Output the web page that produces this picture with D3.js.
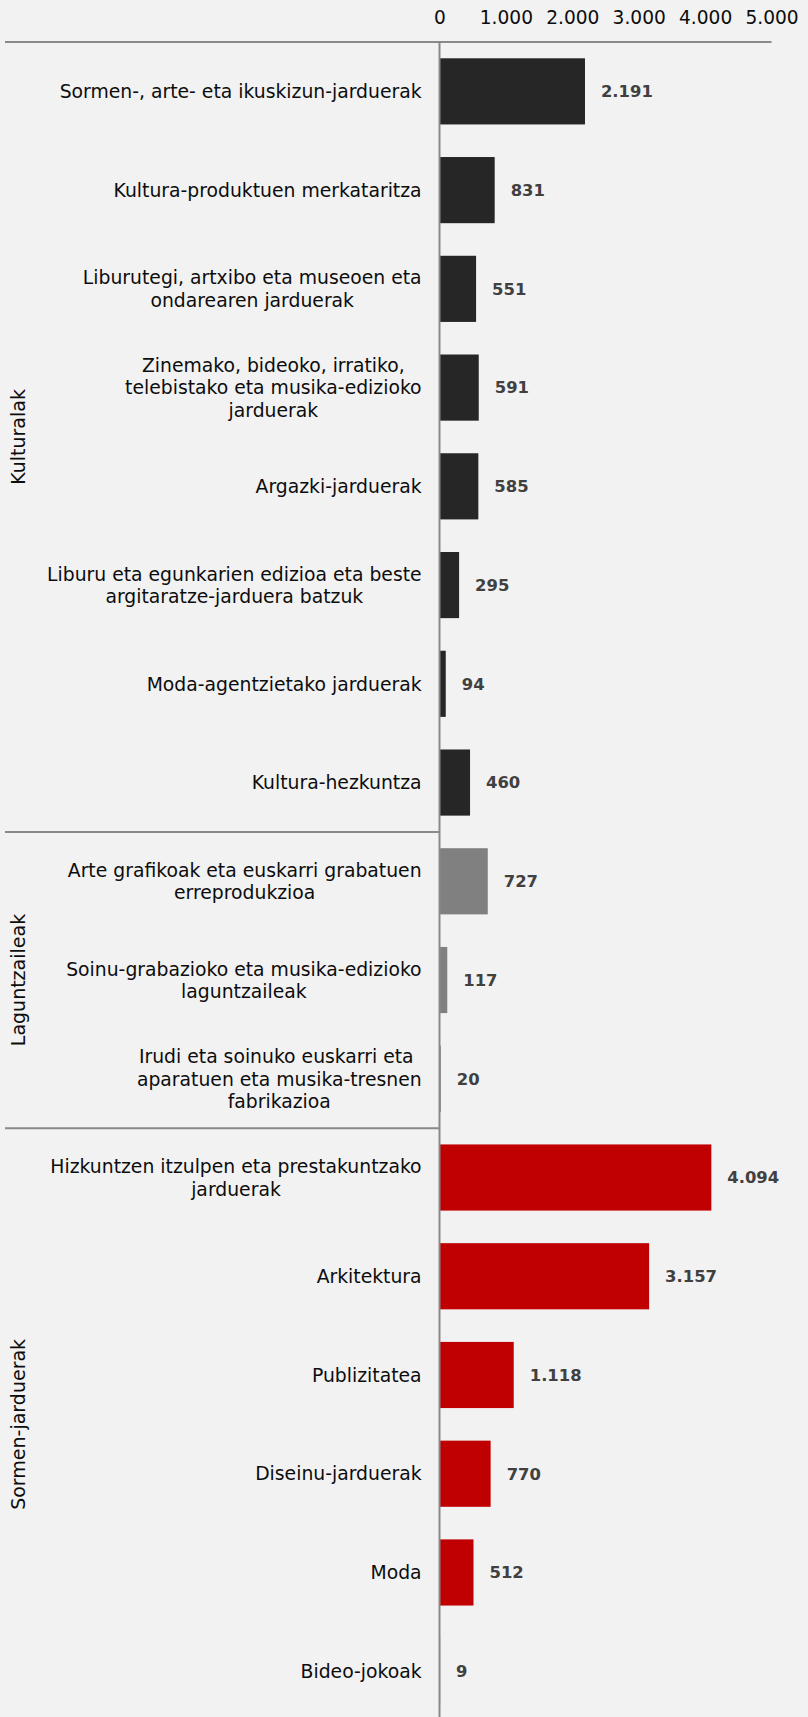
<!DOCTYPE html>
<html><head><meta charset="utf-8">
<script src="https://cdn.jsdelivr.net/npm/d3@7"></script>
<style>
html,body{margin:0;padding:0;background:#F2F2F2;}
svg{display:block;}
</style></head>
<body>
<svg id="chart" width="808" height="1717"></svg>
<script>
const categories = [
  "Sormen-, arte- eta ikuskizun-jarduerak",
  "Kultura-produktuen merkataritza",
  "Liburutegi, artxibo eta museoen eta\nondarearen jarduerak",
  "Zinemako, bideoko, irratiko,\ntelebistako eta musika-edizioko\njarduerak",
  "Argazki-jarduerak",
  "Liburu eta egunkarien edizioa eta beste\nargitaratze-jarduera batzuk",
  "Moda-agentzietako jarduerak",
  "Kultura-hezkuntza",
  "Arte grafikoak eta euskarri grabatuen\nerreprodukzioa",
  "Soinu-grabazioko eta musika-edizioko\nlaguntzaileak",
  "Irudi eta soinuko euskarri eta \naparatuen eta musika-tresnen\nfabrikazioa",
  "Hizkuntzen itzulpen eta prestakuntzako\njarduerak",
  "Arkitektura",
  "Publizitatea",
  "Diseinu-jarduerak",
  "Moda",
  "Bideo-jokoak"
];
const values = [2191, 831, 551, 591, 585, 295, 94, 460, 727, 117, 20, 4094, 3157, 1118, 770, 512, 9];
const groupOf = ["Kulturalak","Kulturalak","Kulturalak","Kulturalak","Kulturalak","Kulturalak","Kulturalak","Kulturalak",
  "Laguntzaileak","Laguntzaileak","Laguntzaileak",
  "Sormen-jarduerak","Sormen-jarduerak","Sormen-jarduerak","Sormen-jarduerak","Sormen-jarduerak","Sormen-jarduerak"];
const groups = ["Kulturalak","Laguntzaileak","Sormen-jarduerak"];
const groupColors = ["#262626","#808080","#C00000"];
const xTicks = [0, 1000, 2000, 3000, 4000, 5000];

const svg = d3.select("#chart");
const W = 808, H = 1717;
const topY = 42, step = 98.74;
const x0 = 439.5, x1 = 771.5;
const FONT = "DejaVu Sans, Verdana, sans-serif";

const x = d3.scaleLinear().domain([0, 5000]).range([x0, x1]);
const y = d3.scaleBand().domain(d3.range(categories.length))
  .range([topY, topY + step * categories.length]).paddingInner(0.33).paddingOuter(0.165);
const color = d3.scaleOrdinal().domain(groups).range(groupColors);
const fmt = d3.formatLocale({decimal: ",", thousands: ".", grouping: [3], currency: ["", "€"]}).format(",d");

svg.append("rect").attr("width", W).attr("height", H).attr("fill", "#F2F2F2");

// x axis on top
const xAxis = d3.axisTop(x).tickValues(xTicks).tickSize(0).tickFormat(fmt);
const gx = svg.append("g").attr("transform", `translate(0,${topY})`).call(xAxis);
gx.select(".domain").remove();
gx.selectAll("text").attr("font-family", FONT).attr("font-size", 18.6)
  .attr("fill", "#0d0d0d").attr("y", 0).attr("dy", 0)
  .attr("transform", `translate(0,${24 - topY})`);

// bars
svg.append("g").selectAll("rect").data(values).join("rect")
  .attr("x", x(0))
  .attr("y", (d, i) => y(i))
  .attr("width", d => x(d) - x(0))
  .attr("height", y.bandwidth())
  .attr("fill", (d, i) => color(groupOf[i]));

// value labels
svg.append("g").selectAll("text").data(values).join("text")
  .attr("x", d => x(d) + 16)
  .attr("y", (d, i) => y(i) + y.bandwidth() / 2)
  .attr("dy", "0.36em")
  .attr("font-family", FONT)
  .attr("font-weight", "bold")
  .attr("font-size", 16.4)
  .attr("fill", "#404040")
  .text(d => fmt(d));

// category labels (multi-line, centered lines, block right-aligned)
const labelRight = 421.6, lineH = 22.5;
const gl = svg.append("g");
categories.forEach((c, i) => {
  const lines = c.split("\n");
  const cy = y(i) + y.bandwidth() / 2;
  const t = gl.append("text")
    .attr("font-family", FONT)
    .attr("font-size", 18.8).attr("fill", "#0d0d0d")
    .attr("text-anchor", "middle").attr("xml:space", "preserve");
  const tspans = lines.map((ln, k) => t.append("tspan")
    .attr("y", cy + (k - (lines.length - 1) / 2) * lineH)
    .attr("dy", "0.36em").text(ln));
  let maxW = 0;
  tspans.forEach(ts => { maxW = Math.max(maxW, ts.node().getComputedTextLength()); });
  tspans.forEach(ts => ts.attr("x", labelRight - maxW / 2));
});

// group separators & labels
const lineColor = "#898989";
svg.append("line").attr("x1", 5).attr("x2", x1).attr("y1", topY).attr("y2", topY)
  .attr("stroke", lineColor).attr("stroke-width", 2);
groups.forEach((g, gi) => {
  const idx = groupOf.map((v, i) => v === g ? i : -1).filter(i => i >= 0);
  const yStart = topY + idx[0] * step;
  const yEndFull = topY + (idx[idx.length - 1] + 1) * step;
  if (gi > 0) {
    svg.append("line").attr("x1", 5).attr("x2", x0).attr("y1", yStart).attr("y2", yStart)
      .attr("stroke", lineColor).attr("stroke-width", 2);
  }
  const cy = (yStart + yEndFull) / 2;
  svg.append("text")
    .attr("transform", `translate(24.5,${cy}) rotate(-90)`)
    .attr("text-anchor", "middle")
    .attr("font-family", FONT)
    .attr("font-size", 19).attr("fill", "#0d0d0d")
    .text(g);
});

// zero line
svg.append("line").attr("x1", x(0)).attr("x2", x(0)).attr("y1", topY).attr("y2", H)
  .attr("stroke", lineColor).attr("stroke-width", 2);
</script>
</body></html>
